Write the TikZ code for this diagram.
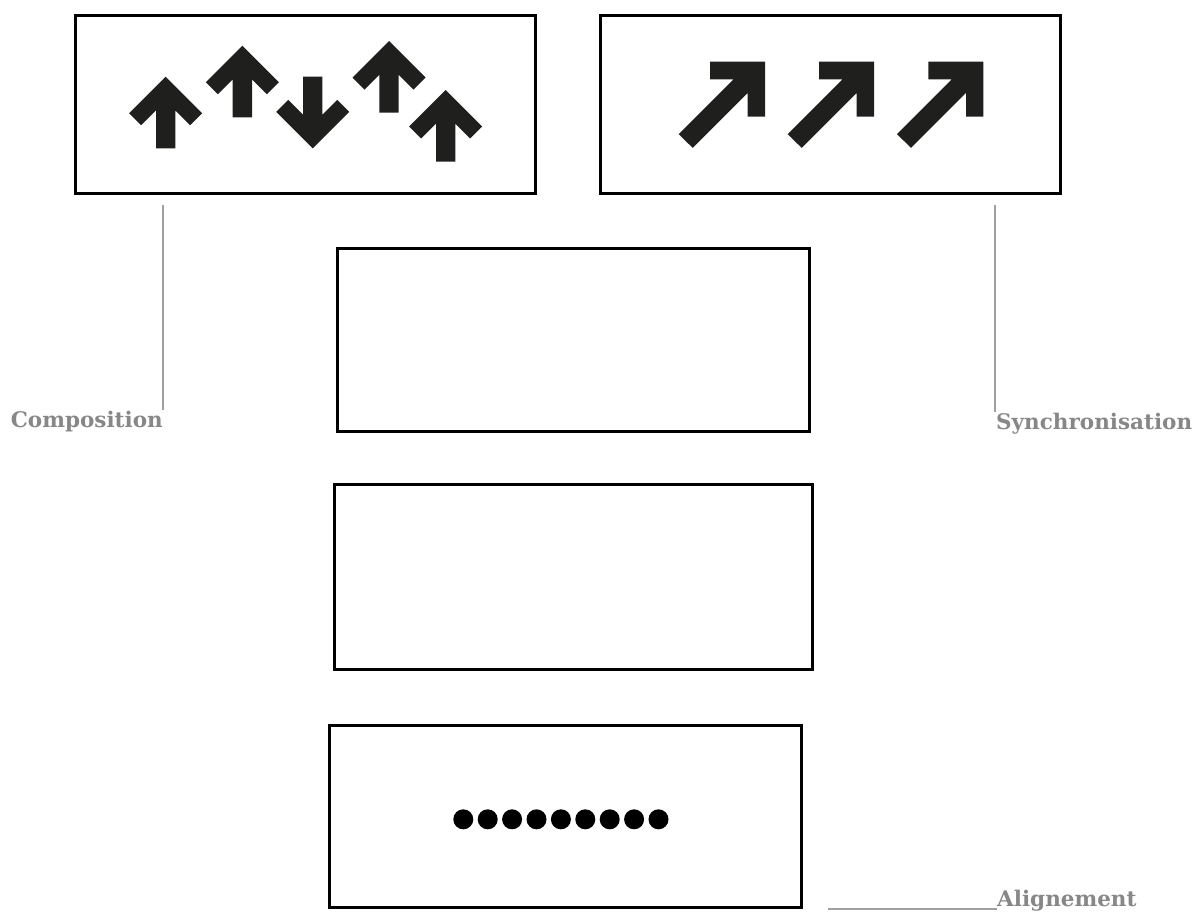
\documentclass[tikz,border=0pt]{standalone}
\usepackage{fontspec}
\setmainfont{DejaVu Serif}
\usepackage{tikz}
\usetikzlibrary{positioning}
\definecolor{inkblack}{RGB}{31,32,30}
\definecolor{leadgray}{RGB}{160,160,160}
\definecolor{labgray}{RGB}{135,135,135}
\tikzset{
  panel/.style={draw=black,line width=3.2pt,fill=white,inner sep=0pt},
  leader/.style={draw=leadgray,line width=2pt},
  tag/.style={text=labgray,font=\fontsize{21.5}{25}\selectfont\bfseries,inner sep=0pt},
  glyph/.style={fill=inkblack},
  dot/.style={circle,fill=black,minimum size=20pt,inner sep=0pt}
}
% up arrow with its tip at #1,#2
\newcommand\arrowup[2]{\fill[glyph,shift={(#1,#2)}]
  (0,0) -- (36.5,36.5) -- (24.5,48.5) -- (9.7,33.7) -- (9.7,71.6)
  -- (-9.7,71.6) -- (-9.7,33.7) -- (-24.5,48.5) -- (-36.5,36.5) -- cycle;}
% down arrow with its tip at #1,#2
\newcommand\arrowdown[2]{\fill[glyph,shift={(#1,#2)},yscale=-1]
  (0,0) -- (36.5,36.5) -- (24.5,48.5) -- (9.7,33.7) -- (9.7,71.6)
  -- (-9.7,71.6) -- (-9.7,33.7) -- (-24.5,48.5) -- (-36.5,36.5) -- cycle;}
% north-east arrow with its corner at #1,#2
\newcommand\arrowne[2]{\fill[glyph,shift={(#1,#2)}]
  (0,0) -- (0,55) -- (-17.3,55) -- (-17.3,31.2) -- (-72.3,86.2)
  -- (-86.3,72.4) -- (-31.5,17.6) -- (-55,17.6) -- (-55,0) -- cycle;}

\begin{document}
\begin{tikzpicture}[x=1pt,y=-1pt]
  \useasboundingbox (0,0) rectangle (1201,914);

  \node[panel,minimum width=460pt,minimum height=178pt] (comp) at (305.5,104.5) {};
  \node[panel,minimum width=460pt,minimum height=178pt] (sync) at (830.5,104.5) {};
  \node[panel,minimum width=472pt,minimum height=183pt] (mid) at (573.5,340) {};
  \node[panel,minimum width=478pt,minimum height=185pt] (low) at (573.5,577) {};
  \node[panel,minimum width=472pt,minimum height=182pt] (align) at (565.5,816.5) {};

  \arrowup{165.7}{76.7}
  \arrowup{242.3}{45.7}
  \arrowdown{312.7}{148.3}
  \arrowup{389}{41}
  \arrowup{445.7}{90}

  \arrowne{765}{61.7}
  \arrowne{874}{61.7}
  \arrowne{983.3}{61.7}

  \foreach \i in {0,...,8}
    \node[dot] (d\i) at (463.3+24.4*\i,819.3) {};

  \node[tag,anchor=base east] (complab) at (163,427) {Composition};
  \node[tag,anchor=base west] (synclab) at (996,429) {Synchronisation};
  \node[tag,anchor=base west] (alignlab) at (997,906) {Alignement};

  \coordinate (comptop) at (163,205);
  \coordinate (synctop) at (995,205);
  \coordinate (alignend) at (828,909);
  \draw[leader] (comptop) -- (comptop |- complab.north);
  \draw[leader] (synctop) -- (synctop |- synclab.north);
  \draw[leader] (alignend) -- (alignend -| alignlab.west);
\end{tikzpicture}
\end{document}
